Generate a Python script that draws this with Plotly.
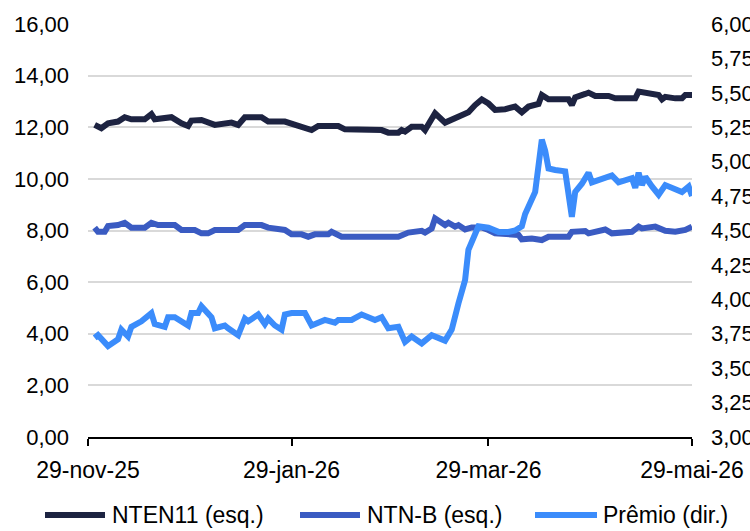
import plotly.graph_objects as go

# ---- data -------------------------------------------------------------
nten_dates = ["2025-12-01", "2025-12-02", "2025-12-03", "2025-12-05", "2025-12-08", "2025-12-10",
              "2025-12-12", "2025-12-16", "2025-12-18", "2025-12-19", "2025-12-22", "2025-12-24",
              "2025-12-27", "2025-12-29", "2025-12-30", "2026-01-02", "2026-01-06", "2026-01-08",
              "2026-01-11", "2026-01-13", "2026-01-15", "2026-01-20", "2026-01-22", "2026-01-27",
              "2026-01-29", "2026-02-01", "2026-02-04", "2026-02-06", "2026-02-12", "2026-02-14",
              "2026-02-19", "2026-02-25", "2026-02-27", "2026-03-02", "2026-03-03", "2026-03-04",
              "2026-03-06", "2026-03-09", "2026-03-10", "2026-03-11", "2026-03-13", "2026-03-16",
              "2026-03-18", "2026-03-21", "2026-03-23", "2026-03-25", "2026-03-27", "2026-03-29",
              "2026-03-31", "2026-04-03", "2026-04-06", "2026-04-08", "2026-04-10", "2026-04-13",
              "2026-04-14", "2026-04-16", "2026-04-22", "2026-04-23", "2026-04-24", "2026-04-27",
              "2026-04-28", "2026-04-30", "2026-05-04", "2026-05-06", "2026-05-12", "2026-05-13",
              "2026-05-15", "2026-05-17", "2026-05-19", "2026-05-20", "2026-05-21", "2026-05-24",
              "2026-05-26", "2026-05-27", "2026-05-29"]
nten_vals = [12.09, 12.05, 11.96, 12.15, 12.22, 12.39, 12.31, 12.31, 12.51, 12.31, 12.35, 12.39,
             12.15, 12.05, 12.26, 12.28, 12.09, 12.13, 12.18, 12.09, 12.39, 12.39, 12.22, 12.22,
             12.13, 12.05, 11.89, 12.05, 12.05, 11.92, 11.92, 11.89, 11.79, 11.79, 11.89, 11.83,
             12.02, 12.02, 11.89, 12.09, 12.54, 12.18, 12.28, 12.48, 12.58, 12.86, 13.08, 12.92,
             12.67, 12.70, 12.80, 12.58, 12.80, 12.90, 13.25, 13.08, 13.08, 12.86, 13.16, 13.29,
             13.34, 13.21, 13.21, 13.12, 13.12, 13.38, 13.34, 13.25, 13.25, 13.08, 13.18, 13.12,
             13.12, 13.25, 13.25]

ntnb_dates = ["2025-12-01", "2025-12-02", "2025-12-04", "2025-12-05", "2025-12-08", "2025-12-10",
              "2025-12-12", "2025-12-16", "2025-12-18", "2025-12-20", "2025-12-25", "2025-12-27",
              "2025-12-31", "2026-01-02", "2026-01-04", "2026-01-06", "2026-01-09", "2026-01-13",
              "2026-01-15", "2026-01-20", "2026-01-22", "2026-01-24", "2026-01-27", "2026-01-29",
              "2026-02-01", "2026-02-03", "2026-02-05", "2026-02-09", "2026-02-10", "2026-02-13",
              "2026-03-02", "2026-03-05", "2026-03-09", "2026-03-10", "2026-03-12", "2026-03-13",
              "2026-03-15", "2026-03-16", "2026-03-17", "2026-03-19", "2026-03-20", "2026-03-22",
              "2026-03-24", "2026-03-27", "2026-03-29", "2026-03-31", "2026-04-07", "2026-04-08",
              "2026-04-11", "2026-04-14", "2026-04-16", "2026-04-22", "2026-04-23", "2026-04-27",
              "2026-04-28", "2026-04-30", "2026-05-03", "2026-05-05", "2026-05-11", "2026-05-13",
              "2026-05-14", "2026-05-18", "2026-05-21", "2026-05-24", "2026-05-27", "2026-05-29"]
ntnb_vals = [8.11, 7.95, 7.95, 8.17, 8.21, 8.30, 8.11, 8.11, 8.30, 8.21, 8.21, 8.02,
             8.02, 7.89, 7.89, 8.02, 8.02, 8.02, 8.21, 8.21, 8.11, 8.08, 8.02, 7.85,
             7.85, 7.76, 7.85, 7.85, 7.95, 7.76, 7.76, 7.92, 7.99, 7.92, 8.08, 8.47,
             8.28, 8.21, 8.30, 8.15, 8.21, 8.04, 8.12, 8.12, 8.02, 7.89, 7.83, 7.66,
             7.69, 7.63, 7.76, 7.76, 7.95, 7.98, 7.89, 7.95, 8.04, 7.89, 7.95, 8.15,
             8.08, 8.15, 7.99, 7.95, 8.02, 8.15]

premio_dates = ["2025-12-01", "2025-12-02", "2025-12-05", "2025-12-08", "2025-12-09", "2025-12-11",
                "2025-12-12", "2025-12-15", "2025-12-18", "2025-12-19", "2025-12-22", "2025-12-23",
                "2025-12-25", "2025-12-29", "2025-12-30", "2026-01-01", "2026-01-02", "2026-01-05",
                "2026-01-06", "2026-01-09", "2026-01-10", "2026-01-13", "2026-01-15", "2026-01-16",
                "2026-01-19", "2026-01-21", "2026-01-22", "2026-01-24", "2026-01-26", "2026-01-27",
                "2026-01-29", "2026-02-02", "2026-02-04", "2026-02-08", "2026-02-11", "2026-02-12",
                "2026-02-16", "2026-02-19", "2026-02-23", "2026-02-25", "2026-02-27", "2026-03-02",
                "2026-03-04", "2026-03-06", "2026-03-09", "2026-03-12", "2026-03-16", "2026-03-18",
                "2026-03-20", "2026-03-22", "2026-03-23", "2026-03-26", "2026-03-29", "2026-03-31",
                "2026-04-01", "2026-04-04", "2026-04-06", "2026-04-08", "2026-04-09", "2026-04-12",
                "2026-04-13", "2026-04-14", "2026-04-15", "2026-04-16", "2026-04-18", "2026-04-21",
                "2026-04-23", "2026-04-24", "2026-04-26", "2026-04-28", "2026-04-29", "2026-05-02",
                "2026-05-05", "2026-05-07", "2026-05-11", "2026-05-12", "2026-05-13", "2026-05-14",
                "2026-05-15", "2026-05-17", "2026-05-19", "2026-05-21", "2026-05-22", "2026-05-24",
                "2026-05-26", "2026-05-28", "2026-05-29"]
premio_vals = [3.72, 3.74, 3.66, 3.71, 3.78, 3.73, 3.80, 3.84, 3.90, 3.82, 3.80, 3.87,
               3.87, 3.81, 3.90, 3.90, 3.95, 3.87, 3.79, 3.81, 3.79, 3.74, 3.86, 3.84,
               3.89, 3.82, 3.86, 3.81, 3.78, 3.89, 3.90, 3.90, 3.81, 3.85, 3.83, 3.85,
               3.85, 3.89, 3.85, 3.87, 3.79, 3.80, 3.69, 3.73, 3.68, 3.74, 3.70, 3.78,
               3.97, 4.14, 4.36, 4.53, 4.52, 4.50, 4.49, 4.49, 4.50, 4.53, 4.62, 4.78,
               4.96, 5.16, 5.08, 4.95, 4.94, 4.93, 4.60, 4.78, 4.84, 4.92, 4.85, 4.87,
               4.90, 4.85, 4.88, 4.81, 4.92, 4.83, 4.89, 4.82, 4.76, 4.83, 4.82, 4.81,
               4.78, 4.82, 4.75]

series_names = ["NTEN11 (esq.)", "NTN-B (esq.)", "Prêmio (dir.)"]
series_colors = ["#1d2341", "#3a5bc2", "#3b8cfb"]

x_tickvals = ["2025-11-29", "2026-01-29", "2026-03-29", "2026-05-29"]
x_ticktext = ["29-nov-25", "29-jan-26", "29-mar-26", "29-mai-26"]

# ---- figure -------------------------------------------------------------
W, H = 750, 531
M_L, M_R, M_T, M_B = 88, 58, 24, 94
FONT = "Liberation Sans, Arial, sans-serif"
LINE_W = 6

fig = go.Figure()
fig.add_trace(go.Scatter(x=nten_dates, y=nten_vals, name=series_names[0], mode="lines",
                         line=dict(color=series_colors[0], width=LINE_W), yaxis="y"))
fig.add_trace(go.Scatter(x=ntnb_dates, y=ntnb_vals, name=series_names[1], mode="lines",
                         line=dict(color=series_colors[1], width=LINE_W), yaxis="y"))
fig.add_trace(go.Scatter(x=premio_dates, y=premio_vals, name=series_names[2], mode="lines",
                         line=dict(color=series_colors[2], width=LINE_W), yaxis="y2"))

fig.update_layout(
    width=W, height=H,
    margin=dict(l=M_L, r=M_R, t=M_T, b=M_B),
    paper_bgcolor="white", plot_bgcolor="white",
    separators=",.",
    showlegend=False,
    font=dict(family=FONT, size=22, color="#000000"),
    xaxis=dict(
        type="date", range=["2025-11-29", "2026-05-29"],
        tickmode="array", tickvals=x_tickvals, ticktext=x_ticktext,
        showgrid=False, zeroline=False, automargin=False,
        showline=True, linecolor="#000000", linewidth=2,
        ticks="outside", ticklen=7, tickwidth=2, tickcolor="#000000",
        ticklabelstandoff=4,
        tickfont=dict(size=23),
    ),
    yaxis=dict(
        range=[0, 16], dtick=2, tickformat=".2f", automargin=False,
        showgrid=True, gridcolor="#d9d9d9", gridwidth=2,
        zeroline=False, showline=False,
        ticks="", ticklabelstandoff=18,
        tickfont=dict(size=22),
    ),
    yaxis2=dict(
        range=[3, 6], dtick=0.25, tickformat=".2f", automargin=False,
        overlaying="y", side="right",
        showgrid=False, zeroline=False, showline=False,
        ticks="", ticklabelstandoff=18,
        tickfont=dict(size=22),
    ),
)

# ---- legend row: long line swatches followed by labels ------------------
plot_w = W - M_L - M_R
plot_h = H - M_T - M_B


def px_x(px):
    return (px - M_L) / plot_w


def px_y(py):
    return (H - M_B - py) / plot_h


legend_y = 515
legend_items = [(45, 105, 110), (300, 360, 365), (535, 597, 601)]
for (x0, x1, xt), name, color in zip(legend_items, series_names, series_colors):
    fig.add_shape(type="line", xref="paper", yref="paper",
                  x0=px_x(x0), x1=px_x(x1), y0=px_y(legend_y), y1=px_y(legend_y),
                  line=dict(color=color, width=6))
    fig.add_annotation(xref="paper", yref="paper", x=px_x(xt), y=px_y(legend_y),
                       text=name, showarrow=False, xanchor="left", yanchor="middle",
                       font=dict(family=FONT, size=23, color="#000000"))

fig.write_html("out.html")
